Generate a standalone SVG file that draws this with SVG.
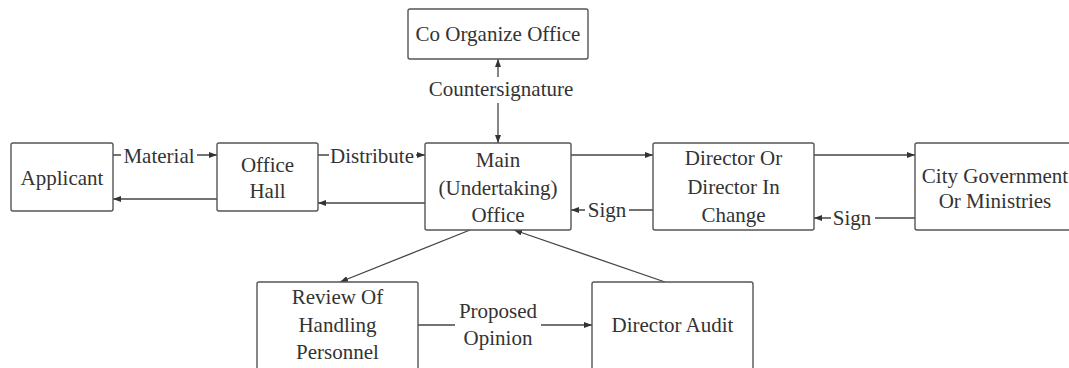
<svg xmlns="http://www.w3.org/2000/svg" width="1069" height="368" viewBox="0 0 1069 368" font-family="Liberation Serif, serif" font-size="21" text-anchor="middle">
<style>
text,tspan{font-family:'Liberation Serif',serif;font-size:21px;fill:#333}
.s{font-family:'Liberation Serif','Times New Roman',serif}
.box{fill:#fff;stroke:#555;stroke-width:1.4}
.c{fill:none;stroke:#444;stroke-width:1.3}
</style>
<defs>
<marker id="ah" viewBox="0 0 8 6" refX="8" refY="3" markerWidth="8" markerHeight="6" markerUnits="userSpaceOnUse" orient="auto">
<path d="M0,0 L8,3 L0,6 z" fill="#333"/>
</marker>
</defs>
<rect width="1069" height="368" fill="#fff"/>
<g id="connectors">
<g class="c" marker-end="url(#ah)">
<line x1="113" y1="155" x2="217" y2="155"/>
<line x1="217" y1="199" x2="113" y2="199"/>
<line x1="318" y1="155" x2="425" y2="155"/>
<line x1="425" y1="203" x2="318" y2="203"/>
<line x1="571" y1="155" x2="653" y2="155"/>
<line x1="653" y1="210" x2="571" y2="210"/>
<line x1="814" y1="155" x2="915" y2="155"/>
<line x1="915" y1="218" x2="814" y2="218"/>
<line x1="498" y1="101" x2="498" y2="59"/>
<line x1="498" y1="101" x2="498" y2="143"/>
<line x1="470" y1="230" x2="340" y2="282"/>
<line x1="665" y1="282" x2="514" y2="230"/>
<line x1="418" y1="325" x2="592" y2="325"/>
</g>
<g fill="#fff">
<rect x="121" y="145" width="76" height="22"/>
<rect x="329" y="145" width="87" height="22"/>
<rect x="585" y="199" width="44" height="24"/>
<rect x="831" y="207" width="44" height="24"/>
<rect x="426" y="77" width="150" height="26"/>
<rect x="455" y="300" width="86" height="52"/>
</g>
<text x="159" y="163"><tspan class="s" style="font-family:'Liberation Serif',serif">Material</tspan></text>
<text x="372" y="163"><tspan class="s" style="font-family:'Liberation Serif',serif">Distribute</tspan></text>
<text x="607" y="217"><tspan class="s" style="font-family:'Liberation Serif',serif">Sign</tspan></text>
<text x="852" y="225"><tspan class="s" style="font-family:'Liberation Serif',serif">Sign</tspan></text>
<text x="501" y="96"><tspan class="s" style="font-family:'Liberation Serif',serif">Countersignature</tspan></text>
<text x="498" y="318"><tspan class="s" style="font-family:'Liberation Serif',serif">Proposed</tspan></text>
<text x="498" y="345"><tspan class="s" style="font-family:'Liberation Serif',serif">Opinion</tspan></text>
</g>
<g id="co-organize">
<rect class="box" x="408" y="9" width="180" height="50" rx="2"/>
<text x="498" y="41"><tspan class="s" style="font-family:'Liberation Serif',serif">Co Organize Office</tspan></text>
</g>
<g id="applicant">
<rect class="box" x="11" y="143" width="102" height="68" rx="2"/>
<text x="62" y="185"><tspan class="s" style="font-family:'Liberation Serif',serif">Applicant</tspan></text>
</g>
<g id="office-hall">
<rect class="box" x="217" y="143" width="101" height="68" rx="2"/>
<text x="267.5" y="172"><tspan class="s" style="font-family:'Liberation Serif',serif">Office</tspan></text>
<text x="267.5" y="198"><tspan class="s" style="font-family:'Liberation Serif',serif">Hall</tspan></text>
</g>
<g id="main-office">
<rect class="box" x="425" y="143" width="146" height="87" rx="2"/>
<text x="498" y="167"><tspan class="s" style="font-family:'Liberation Serif',serif">Main</tspan></text>
<text x="498" y="195"><tspan class="s" style="font-family:'Liberation Serif',serif">(Undertaking)</tspan></text>
<text x="498" y="222"><tspan class="s" style="font-family:'Liberation Serif',serif">Office</tspan></text>
</g>
<g id="director">
<rect class="box" x="653" y="143" width="161" height="87" rx="2"/>
<text x="733.5" y="165"><tspan class="s" style="font-family:'Liberation Serif',serif">Director Or</tspan></text>
<text x="733.5" y="194"><tspan class="s" style="font-family:'Liberation Serif',serif">Director In</tspan></text>
<text x="733.5" y="222"><tspan class="s" style="font-family:'Liberation Serif',serif">Change</tspan></text>
</g>
<g id="city-government">
<rect class="box" x="915" y="143" width="165" height="87" rx="2"/>
<text x="995" y="183"><tspan class="s" style="font-family:'Liberation Serif',serif">City Government</tspan></text>
<text x="995" y="208"><tspan class="s" style="font-family:'Liberation Serif',serif">Or Ministries</tspan></text>
</g>
<g id="review">
<rect class="box" x="257" y="282" width="161" height="100" rx="2"/>
<text x="337.5" y="304"><tspan class="s" style="font-family:'Liberation Serif',serif">Review Of</tspan></text>
<text x="337.5" y="332"><tspan class="s" style="font-family:'Liberation Serif',serif">Handling</tspan></text>
<text x="337.5" y="359"><tspan class="s" style="font-family:'Liberation Serif',serif">Personnel</tspan></text>
</g>
<g id="director-audit">
<rect class="box" x="592" y="282" width="161" height="100" rx="2"/>
<text x="672.5" y="332"><tspan class="s" style="font-family:'Liberation Serif',serif">Director Audit</tspan></text>
</g>
</svg>
